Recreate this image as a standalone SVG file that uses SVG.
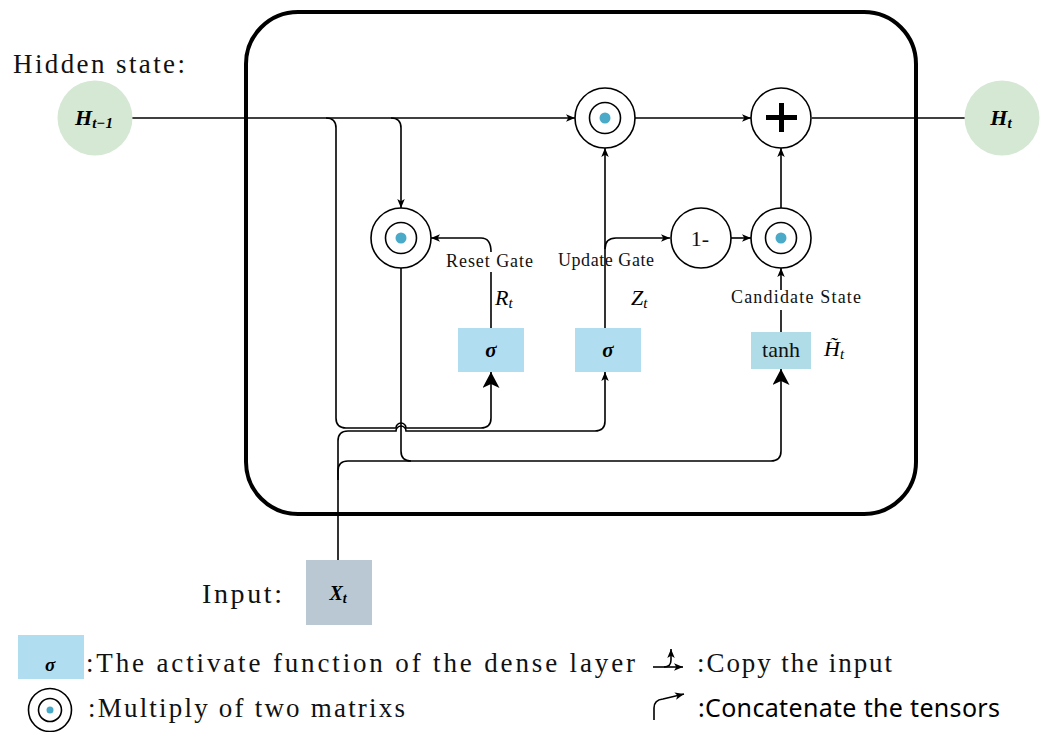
<svg xmlns="http://www.w3.org/2000/svg" width="1045" height="732" viewBox="0 0 1045 732">
  <defs>
    <marker id="arr" markerUnits="userSpaceOnUse" markerWidth="10" markerHeight="8" refX="9" refY="3.75" orient="auto">
      <path d="M0,0 L9,3.75 L0,7.5 L2.3,3.75 z" fill="#000"/>
    </marker>
    <marker id="arrBig" markerUnits="userSpaceOnUse" markerWidth="18" markerHeight="18" refX="16" refY="8.5" orient="auto">
      <path d="M0,0 L16,8.5 L0,17 L4,8.5 z" fill="#000"/>
    </marker>
  </defs>
  <style>
    .ln { fill: none; stroke: #000; stroke-width: 1.6; }
    .ring { fill: #fff; stroke: #000; stroke-width: 1.6; }
    .dot { fill: #4aaac8; stroke: none; }
    .state { fill: #d5e8d4; }
    .gate { fill: #b1ddf0; }
    .act { fill: #b0dce8; }
    .inp { fill: #bac8d3; }
    .mono { font-family: "Liberation Serif", serif; fill: #111; }
    .math { font-family: "Liberation Serif", serif; font-style: italic; fill: #000; }
    .bold { font-weight: bold; }
    .sans { font-family: "Noto Sans", "Open Sans", sans-serif; fill: #000; }
  </style>
  <rect width="1045" height="732" fill="#fff"/>

  <!-- GRU cell boundary -->
  <rect id="cell" x="246" y="12" width="670" height="502" rx="52" ry="52" fill="none" stroke="#000" stroke-width="4"/>

  <!-- connectors -->
  <g id="connectors">
    <!-- previous hidden state into the top multiply -->
    <path class="ln" d="M132 118 H575" marker-end="url(#arr)"/>
    <!-- copy of H(t-1) down to the reset multiply -->
    <path class="ln" d="M391 118 Q401 118 401 128 V208" marker-end="url(#arr)"/>
    <!-- copy of H(t-1) down to the concat bus, into reset sigma -->
    <path class="ln" d="M326 118 Q336 118 336 128 V418 Q336 428 346 428 H396 A5 5 0 0 1 406 428 H481 Q491 428 491 418 V372" marker-end="url(#arrBig)"/>
    <!-- input X(t) up into the concat bus, into update sigma -->
    <path class="ln" d="M338 560 V441 Q338 431 348 431 H396 A5 5 0 0 1 406 431 H595 Q605 431 605 421 V372" marker-end="url(#arr)"/>
    <!-- input X(t) into the candidate bus -->
    <path class="ln" d="M338 480 V471 Q338 461 348 461 H771 Q781 461 781 451 V369" marker-end="url(#arrBig)"/>
    <!-- reset product down into the candidate bus -->
    <path class="ln" d="M401 268 V451 Q401 461 411 461"/>
    <!-- reset gate output -->
    <path class="ln" d="M491 328 V272"/>
    <path class="ln" d="M491 252 Q491 238 481 238 H431" marker-end="url(#arr)"/>
    <!-- update gate output -->
    <path class="ln" d="M605 328 V148" marker-end="url(#arr)"/>
    <path class="ln" d="M605 249 Q605 238 616 238 H670" marker-end="url(#arr)"/>
    <!-- 1 - z into candidate multiply -->
    <path class="ln" d="M731 238 H751" marker-end="url(#arr)"/>
    <!-- candidate state output -->
    <path class="ln" d="M781 332 V310"/>
    <path class="ln" d="M781 290 V268" marker-end="url(#arr)"/>
    <!-- products into the sum -->
    <path class="ln" d="M635 118 H751" marker-end="url(#arr)"/>
    <path class="ln" d="M781 208 V148" marker-end="url(#arr)"/>
    <!-- sum out to H(t) -->
    <path class="ln" d="M812 118 H965"/>
  </g>

  <!-- states -->
  <g id="h-prev">
    <circle class="state" cx="95" cy="118" r="37.5"/>
    <text class="math bold" x="94" y="125" font-size="22" text-anchor="middle">H<tspan font-size="15" dy="3">t−1</tspan></text>
  </g>
  <g id="h-next">
    <circle class="state" cx="1002" cy="118" r="37.5"/>
    <text class="math bold" x="1001" y="125" font-size="22" text-anchor="middle">H<tspan font-size="15" dy="3">t</tspan></text>
  </g>

  <!-- element-wise multiplies -->
  <g id="mul-reset">
    <circle class="ring" cx="401" cy="238" r="30"/>
    <circle class="ring" cx="401" cy="238" r="15.5"/>
    <circle class="dot" cx="401" cy="238" r="5.5"/>
  </g>
  <g id="mul-update">
    <circle class="ring" cx="605" cy="118" r="30"/>
    <circle class="ring" cx="605" cy="118" r="15.5"/>
    <circle class="dot" cx="605" cy="118" r="5.5"/>
  </g>
  <g id="mul-candidate">
    <circle class="ring" cx="781" cy="238" r="30"/>
    <circle class="ring" cx="781" cy="238" r="15.5"/>
    <circle class="dot" cx="781" cy="238" r="5.5"/>
  </g>

  <!-- sum -->
  <g id="sum">
    <circle class="ring" cx="781" cy="118" r="30"/>
    <path d="M766 117.5 H797 M781.5 103 V132" stroke="#000" stroke-width="5" fill="none"/>
  </g>

  <!-- one minus -->
  <g id="one-minus">
    <circle class="ring" cx="701" cy="238" r="30"/>
    <text class="mono" x="700" y="246" font-size="22" text-anchor="middle">1-</text>
  </g>

  <!-- dense layers -->
  <g id="sigma-reset">
    <rect class="gate" x="458" y="328" width="66" height="44"/>
    <text class="math bold" x="491" y="357" font-size="21" text-anchor="middle">σ</text>
  </g>
  <g id="sigma-update">
    <rect class="gate" x="575" y="328" width="66" height="44"/>
    <text class="math bold" x="608" y="357" font-size="21" text-anchor="middle">σ</text>
  </g>
  <g id="tanh">
    <rect class="act" x="751" y="332" width="60" height="37"/>
    <text class="mono" x="781" y="357" font-size="22" text-anchor="middle" fill="#333">tanh</text>
  </g>

  <!-- input -->
  <g id="input">
    <rect class="inp" x="306" y="560" width="66" height="65"/>
    <text class="math bold" x="338" y="600" font-size="20" text-anchor="middle">X<tspan font-size="14" dy="3">t</tspan></text>
  </g>

  <!-- labels -->
  <g id="labels">
    <text class="mono" x="13" y="73" font-size="27" textLength="172" lengthAdjust="spacing">Hidden state:</text>
    <text class="mono" x="446" y="267" font-size="18" textLength="87" lengthAdjust="spacing">Reset Gate</text>
    <text class="mono" x="558" y="266" font-size="18" textLength="96" lengthAdjust="spacing">Update Gate</text>
    <text class="mono" x="731" y="303" font-size="18" textLength="130" lengthAdjust="spacing">Candidate State</text>
    <text class="math" x="495" y="305" font-size="22">R<tspan font-size="15" dy="3">t</tspan></text>
    <text class="math" x="631" y="305" font-size="22">Z<tspan font-size="15" dy="3">t</tspan></text>
    <text class="math" x="824" y="356" font-size="22">H&#x303;<tspan font-size="15" dy="3">t</tspan></text>
    <text class="mono" x="202" y="603" font-size="28" textLength="80" lengthAdjust="spacing">Input:</text>
  </g>

  <!-- legend -->
  <g id="legend">
    <rect class="gate" x="18" y="635" width="66" height="44"/>
    <text class="math bold" x="50" y="671" font-size="19" text-anchor="middle">σ</text>
    <text class="mono" x="86" y="672" font-size="27" textLength="549" lengthAdjust="spacing">:The activate function of the dense layer</text>

    <circle class="ring" cx="50" cy="710" r="21.5"/>
    <circle class="ring" cx="50" cy="710" r="11.5"/>
    <circle class="dot" cx="50" cy="710" r="3.5"/>
    <text class="mono" x="88" y="717" font-size="27" textLength="317" lengthAdjust="spacing">:Multiply of two matrixs</text>

    <path class="ln" d="M653 667 H683" marker-end="url(#arr)"/>
    <path class="ln" d="M664 667 Q671 667 671 660 V649" marker-end="url(#arr)"/>
    <text class="mono" x="697" y="672" font-size="27" textLength="195" lengthAdjust="spacing">:Copy the input</text>

    <path class="ln" d="M654 720 V708 Q654 700 663 699 L684 694" marker-end="url(#arr)"/>
    <text class="sans" x="698" y="717" font-size="25" textLength="302" lengthAdjust="spacing">:Concatenate the tensors</text>
  </g>
</svg>
